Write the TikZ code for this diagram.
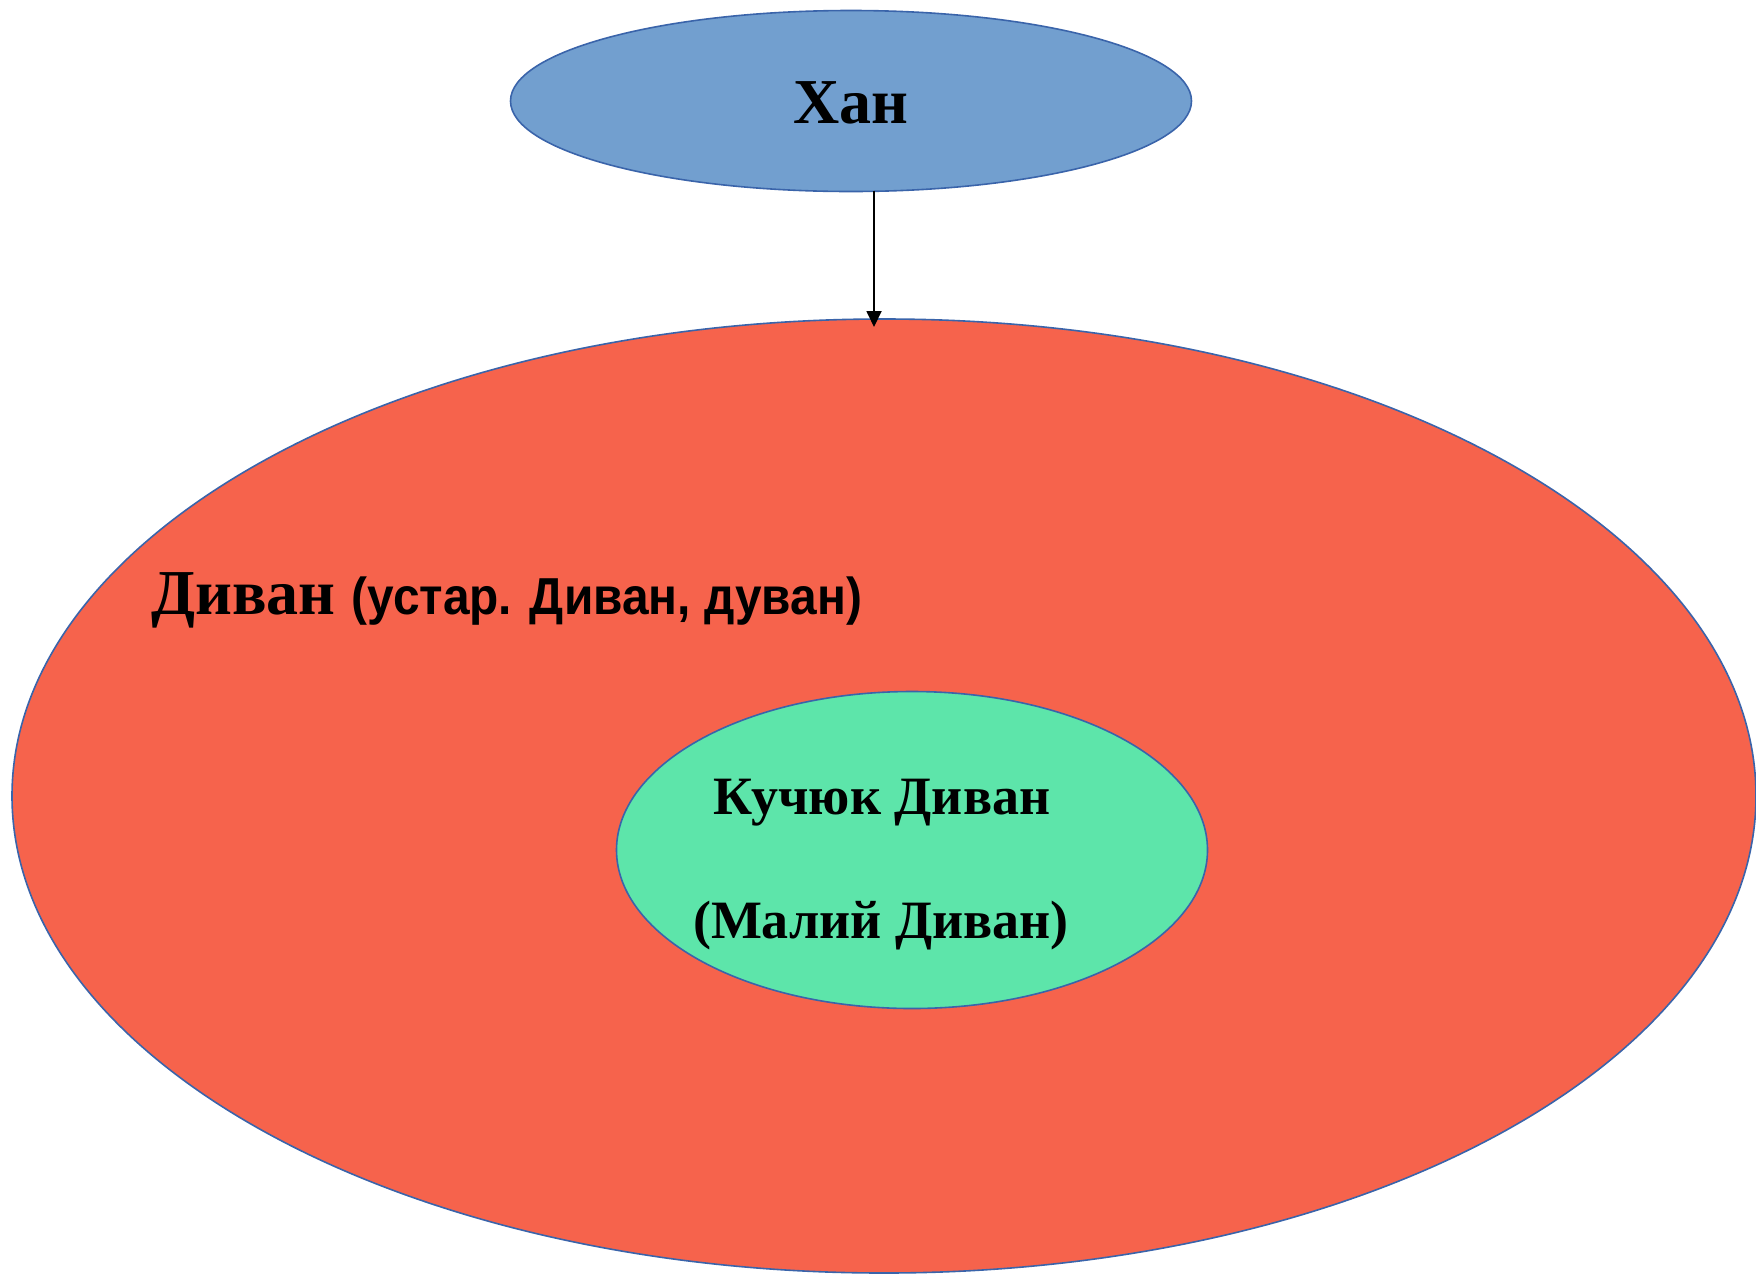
\documentclass[tikz,border=0pt]{standalone}
\usepackage{fontspec}
\setmainfont{Liberation Serif}
\newfontfamily\narrowsans[FakeStretch=0.92]{Liberation Sans}
\usetikzlibrary{shapes.geometric,arrows.meta}
\definecolor{khanfill}{RGB}{114,159,207}
\definecolor{divanfill}{RGB}{246,99,76}
\definecolor{smallfill}{RGB}{93,229,170}
\definecolor{edgeblue}{RGB}{58,100,170}
\tikzset{
  oval/.style={ellipse, draw=edgeblue, line width=0.8pt, inner sep=0pt},
  lbl/.style={inner sep=0pt, font=\bfseries\fontsize{32}{38}\selectfont},
  lblsmall/.style={inner sep=0pt, font=\bfseries\fontsize{27}{32}\selectfont},
  conn/.style={draw=black, line width=0.9pt, -{Triangle[length=8pt,width=7.5pt]}}
}
\begin{document}
\begin{tikzpicture}[x=0.5pt,y=-0.5pt]
\useasboundingbox (0,0) rectangle (1756,1275);
\node[oval, fill=khanfill, minimum width=340.5pt, minimum height=90.5pt] (khan) at (851,101) {};
\node[oval, fill=divanfill, minimum width=872pt, minimum height=477pt] (divan) at (884,796) {};
\node[oval, fill=smallfill, minimum width=295.5pt, minimum height=158.5pt] (kuchuk) at (912,850) {};
\node[lbl, anchor=base] (khanlbl) at (851,123) {Хан};
\node[lbl, anchor=base west] (divanlbl) at (151,614) {Диван {\narrowsans\fontsize{26}{30}\selectfont (устар. Диван, дуван)}};
\node[lblsmall, anchor=base] (kuchuklbl) at (882,814) {Кучюк Диван};
\node[lblsmall, anchor=base] (malylbl) at (881,938) {(Малий Диван)};
\coordinate (armstart) at (874,191);
\coordinate (armend) at (874,327);
\draw[conn] (armstart) -- (armend);
\end{tikzpicture}
\end{document}
